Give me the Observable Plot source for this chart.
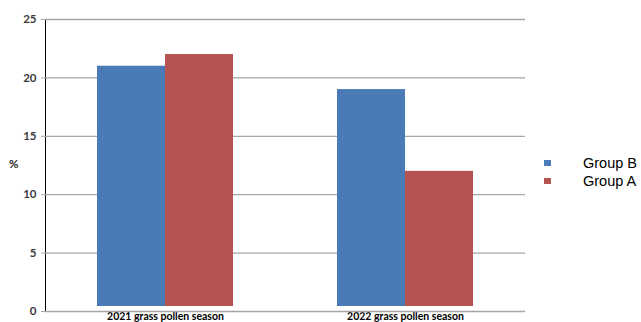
<!DOCTYPE html>
<html>
<head>
<meta charset="utf-8">
<script src="https://cdn.jsdelivr.net/npm/d3@7"></script>
<script src="https://cdn.jsdelivr.net/npm/@observablehq/plot@0.6"></script>
<style>
  html, body { margin: 0; padding: 0; background: #fff; }
  #wrap { position: relative; width: 641px; height: 322px; overflow: hidden; }
  #legend { position: absolute; left: 544px; top: 154px; font-family: "Liberation Sans", Arial, sans-serif; font-size: 14.5px; color: #000; }
  .item { display: flex; align-items: center; height: 18px; }
  .sw { width: 7px; height: 6px; margin-right: 32px; }
  #ylab { position: absolute; left: 9px; top: 157px; font-family: Lato, sans-serif; font-weight: bold; font-size: 11.5px; color: #222; }
</style>
</head>
<body>
<div id="wrap"><div id="ylab">%</div><div id="legend"></div></div>
<script>
const seasons = ["2021 grass pollen season", "2022 grass pollen season"];
const groups = ["Group B", "Group A"];
const groupB = [21, 19];
const groupA = [22, 12];
const colors = ["#4a7bb6", "#b45350"];
const yTicks = [0, 5, 10, 15, 20, 25];

const data = [];
seasons.forEach((s, i) => {
  data.push({season: s, group: "Group B", value: groupB[i]});
  data.push({season: s, group: "Group A", value: groupA[i]});
});

const chart = Plot.plot({
  width: 641,
  height: 322,
  marginLeft: 44,
  marginRight: 116,
  marginTop: 19,
  marginBottom: 11,
  style: {fontFamily: "Lato, sans-serif", background: "#fff"},
  facet: {data, x: "season"},
  fx: {domain: seasons, padding: 0, label: null, axis: "bottom", tickSize: 0, tickPadding: 1},
  x: {domain: groups, paddingInner: 0, paddingOuter: 0.743, axis: null},
  y: {domain: [0, 25], ticks: yTicks, label: null, tickSize: 4, tickPadding: 5, line: true},
  color: {domain: groups, range: colors},
  marks: [
    Plot.ruleY(yTicks, {stroke: "#a6a6a6", strokeWidth: 1.3}),
    Plot.barY(data, {x: "group", y: "value", fill: "group", insetBottom: 5})
  ]
});

// style axes
d3.select(chart).selectAll("[aria-label='y-axis'] text, [aria-label='y-axis tick label'] text")
  .attr("font-size", 11.5).attr("font-weight", "bold").attr("fill", "#3a3a3a");
d3.select(chart).selectAll("[aria-label='y-axis'] path, [aria-label='y-axis'] line, [aria-label='y-axis tick'] path, [aria-label='y-axis line'] path, [aria-label='y-axis line'] line")
  .attr("stroke", "#a6a6a6");
d3.select(chart).selectAll("[aria-label='fx-axis'] text, [aria-label='fx-axis tick label'] text")
  .attr("font-size", 10.5).attr("font-weight", "bold").attr("fill", "#000");

document.getElementById("wrap").appendChild(chart);

const legend = document.getElementById("legend");
groups.forEach((g, i) => {
  const row = document.createElement("div");
  row.className = "item";
  const sw = document.createElement("span");
  sw.className = "sw";
  sw.style.background = colors[i];
  const t = document.createElement("span");
  t.textContent = g;
  row.appendChild(sw);
  row.appendChild(t);
  legend.appendChild(row);
});
</script>
</body>
</html>
